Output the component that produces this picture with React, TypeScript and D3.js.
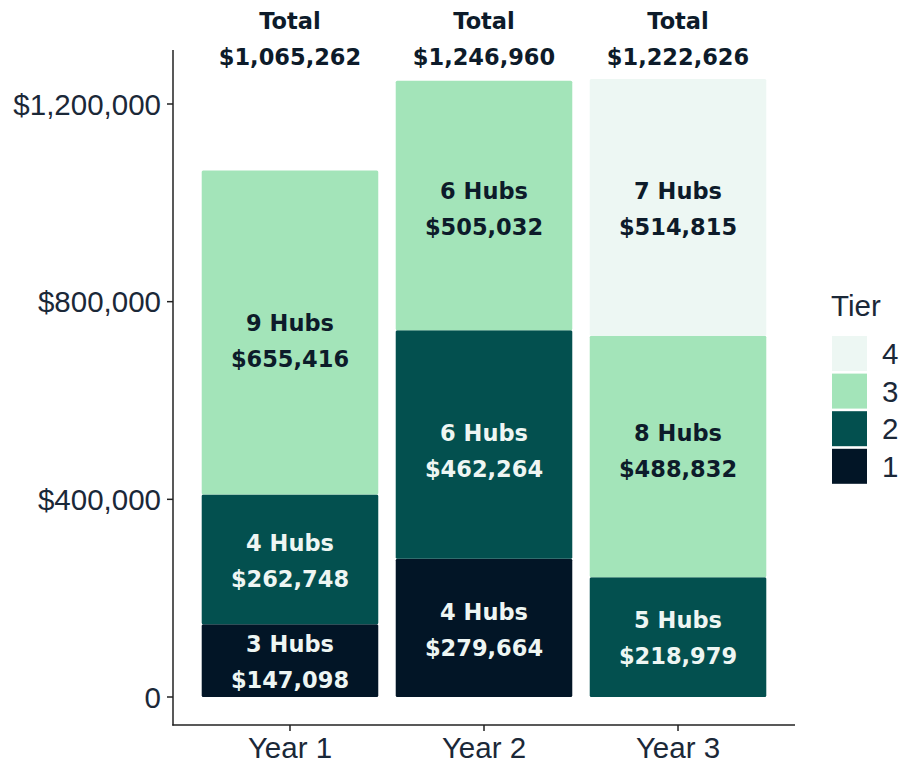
import React from "react";
import * as d3 from "d3";

const years = ["Year 1", "Year 2", "Year 3"];
const tiers = ["1", "2", "3", "4"];
// amounts printed in the labels
const tier1Amount = [147098, 279664, 0];
const tier2Amount = [262748, 462264, 218979];
const tier3Amount = [655416, 505032, 488832];
const tier4Amount = [0, 0, 514815];
// bar heights as drawn in the picture
const tier1Bar = [147098, 279664, 0];
const tier2Bar = [262748, 462264, 242200];
const tier3Bar = [655416, 505032, 488900];
const tier4Bar = [0, 0, 519500];
const tier1Hubs = [3, 4, 0];
const tier2Hubs = [4, 6, 5];
const tier3Hubs = [9, 6, 8];
const tier4Hubs = [0, 0, 7];
// label anchor (in dollars) for each tier's text block
const tier1LabelAt = [70800, 135600, 0];
const tier2LabelAt = [274200, 496800, 119400];
const tier3LabelAt = [719400, 987500, 496800];
const tier4LabelAt = [0, 0, 988500];
const yTicks = [0, 400000, 800000, 1200000];
const colors = ["#021526", "#03504f", "#a3e4b9", "#edf7f3"];
const labelColors = ["#eef6f3", "#eef6f3", "#0d1b2a", "#0d1b2a"];

const W = 899, H = 764;
const axisColor = "#1b2838";
const tickFont = "'Liberation Sans', Arial, sans-serif";
const boldFont = "'DejaVu Sans', sans-serif";
const tickSize = 29.5;

export default function App() {
  const amounts = [tier1Amount, tier2Amount, tier3Amount, tier4Amount];
  const bars = [tier1Bar, tier2Bar, tier3Bar, tier4Bar];
  const hubs = [tier1Hubs, tier2Hubs, tier3Hubs, tier4Hubs];
  const labelAt = [tier1LabelAt, tier2LabelAt, tier3LabelAt, tier4LabelAt];
  const rows = years.map((yr, i) => {
    const r: any = { year: yr };
    tiers.forEach((t, k) => (r[t] = bars[k][i]));
    return r;
  });
  const series = d3.stack().keys(tiers)(rows);
  const totals = years.map((_, i) => d3.sum(amounts, (v) => v[i]));

  const x = d3.scaleBand().domain(years).range([173, 795]).paddingInner(0.09).paddingOuter(0.148);
  const y = d3.scaleLinear().domain([0, 1200000]).range([697, 104]);
  const fmt = d3.format("$,");
  const bw = x.bandwidth();

  return (
    <svg width={W} height={H} style={{ position: "absolute", left: 0, top: 0, background: "#fff" }}>
      {series.map((s, k) => (
        <g key={k}>
          {s.map((d, i) =>
            d[1] - d[0] > 0 ? (
              <rect key={i} x={x(years[i])} y={y(d[1])} width={bw} height={y(d[0]) - y(d[1])} fill={colors[k]} rx={1.5} />
            ) : null
          )}
        </g>
      ))}
      {series.map((s, k) =>
        s.map((d, i) =>
          amounts[k][i] > 0 ? (
            <text key={`l${k}-${i}`} x={x(years[i])! + bw / 2} y={y(labelAt[k][i])} textAnchor="middle"
              fontFamily={boldFont} fontWeight="bold" fontSize={22.5} fill={labelColors[k]}>
              <tspan x={x(years[i])! + bw / 2} dy={-18} dominantBaseline="central">{`${hubs[k][i]} Hubs`}</tspan>
              <tspan x={x(years[i])! + bw / 2} dy={36} dominantBaseline="central">{fmt(amounts[k][i])}</tspan>
            </text>
          ) : null
        )
      )}
      {years.map((yr, i) => (
        <text key={`t${i}`} x={x(yr)! + bw / 2} y={21} textAnchor="middle" fontFamily={boldFont} fontWeight="bold" fontSize={22.5} fill="#0d1b2a">
          <tspan x={x(yr)! + bw / 2} dominantBaseline="central">Total</tspan>
          <tspan x={x(yr)! + bw / 2} dy={36} dominantBaseline="central">{fmt(totals[i])}</tspan>
        </text>
      ))}
      {/* axes */}
      <line x1={173} x2={173} y1={50} y2={725.5} stroke="#222" strokeWidth={1.5} />
      <line x1={172.25} x2={795} y1={725} y2={725} stroke="#222" strokeWidth={1.5} />
      {yTicks.map((t) => (
        <g key={t}>
          <line x1={167} x2={173} y1={y(t)} y2={y(t)} stroke="#222" strokeWidth={1.5} />
          <text x={161} y={y(t)} dominantBaseline="central" textAnchor="end" fontFamily={tickFont} fontSize={tickSize} fill={axisColor}>
            {t === 0 ? "0" : fmt(t)}
          </text>
        </g>
      ))}
      {years.map((yr) => (
        <g key={yr}>
          <line x1={x(yr)! + bw / 2} x2={x(yr)! + bw / 2} y1={725} y2={731} stroke="#222" strokeWidth={1.5} />
          <text x={x(yr)! + bw / 2} y={758} textAnchor="middle" fontFamily={tickFont} fontSize={tickSize} fill={axisColor}>{yr}</text>
        </g>
      ))}
      {/* legend */}
      <text x={831} y={316} fontFamily={tickFont} fontSize={tickSize} fill={axisColor}>Tier</text>
      {tiers.slice().reverse().map((t, j) => {
        const k = tiers.length - 1 - j;
        const top = 336 + j * 37.6;
        return (
          <g key={t}>
            <rect x={832} y={top} width={35} height={35} fill={colors[k]} />
            <text x={882} y={top + 17.5} dominantBaseline="central" fontFamily={tickFont} fontSize={tickSize} fill={axisColor}>{t}</text>
          </g>
        );
      })}
    </svg>
  );
}
